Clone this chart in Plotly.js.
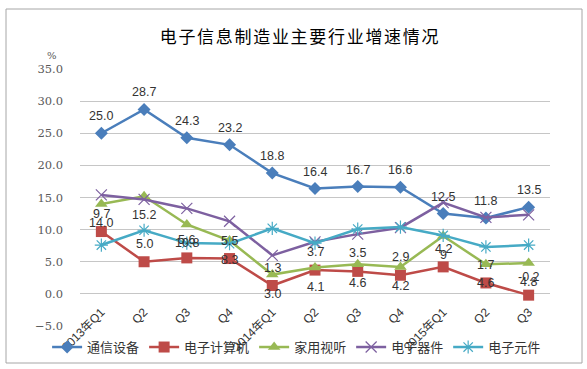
<!DOCTYPE html>
<html>
<head>
<meta charset="utf-8">
<script src="https://cdn.plot.ly/plotly-3.0.1.min.js"></script>
<style>
html,body{margin:0;padding:0;background:#fff;}
#chart{width:587px;height:369px;}
.gtitle{letter-spacing:1.7px;}
</style>
</head>
<body>
<div id="chart"></div>
<script>
var quarters = ["2013年Q1","Q2","Q3","Q4","2014年Q1","Q2","Q3","Q4","2015年Q1","Q2","Q3"];
var seriesNames = ["通信设备","电子计算机","家用视听","电子器件","电子元件"];
var telecom   = [25.0, 28.7, 24.3, 23.2, 18.8, 16.4, 16.7, 16.6, 12.5, 11.8, 13.5];
var computer  = [9.7, 5.0, 5.6, 5.5, 1.3, 3.7, 3.5, 2.9, 4.2, 1.7, -0.2];
var audiovis  = [14.0, 15.2, 10.8, 8.3, 3.0, 4.1, 4.6, 4.2, 9.0, 4.6, 4.8];
var devices   = [15.4, 14.7, 13.3, 11.3, 6.0, 8.1, 9.3, 10.3, 14.2, 11.9, 12.3];
var components= [7.6, 9.9, 7.9, 7.8, 10.2, 7.9, 10.1, 10.4, 9.1, 7.3, 7.6];
var telecomLabels  = ["25.0","28.7","24.3","23.2","18.8","16.4","16.7","16.6","12.5","11.8","13.5"];
var computerLabels = ["9.7","5.0","5.6","5.5","1.3","3.7","3.5","2.9","4.2","1.7","-0.2"];
var audiovisLabels = ["14.0","15.2","10.8","8.3","3.0","4.1","4.6","4.2","9","4.6","4.8"];
var yTicks = [-5, 0, 5, 10, 15, 20, 25, 30, 35];

var xIdx = quarters.map(function(_, i){ return i; });

function mk(name, y, color, symbol, msize, extra){
  var m = {color: color, symbol: symbol, size: msize};
  if (extra) { for (var k in extra) m[k] = extra[k]; }
  return {
    type: 'scatter', mode: 'lines+markers', name: name,
    x: xIdx, y: y,
    line: {color: color, width: 2.5},
    marker: m,
    cliponaxis: false
  };
}

var traces = [
  mk(seriesNames[0], telecom, '#4A7EBB', 'diamond', 10),
  mk(seriesNames[1], computer, '#BE4B48', 'square', 11),
  mk(seriesNames[2], audiovis, '#98B954', 'triangle-up', 11),
  mk(seriesNames[3], devices, '#7D60A0', 'x-thin-open', 11, {line: {color: '#7D60A0', width: 1.2}}),
  mk(seriesNames[4], components, '#46AAC5', 'asterisk-open', 11, {line: {color: '#46AAC5', width: 1.2}})
];

var annotations = [];
function addLabels(vals, labels, shift){
  vals.forEach(function(v, i){
    annotations.push({
      x: i, y: v, xref: 'x', yref: 'y', text: labels[i], showarrow: false,
      yshift: shift, yanchor: 'middle', xanchor: 'center',
      font: {family: 'Liberation Sans, Arial, sans-serif', size: 12.5, color: '#333333'}
    });
  });
}
addLabels(telecom, telecomLabels, 17);
addLabels(computer, computerLabels, 18);
addLabels(audiovis, audiovisLabels, -19);

annotations.push({
  xref: 'paper', yref: 'paper', x: -0.06, y: 1.054, text: '%', showarrow: false,
  xanchor: 'center', yanchor: 'middle',
  font: {family: 'DejaVu Serif, serif', size: 10, color: '#595959'}
});

var yMin = yTicks[0], yMax = yTicks[yTicks.length - 1];

var layout = {
  width: 587, height: 369,
  paper_bgcolor: '#ffffff', plot_bgcolor: '#ffffff',
  margin: {l: 80, r: 37, t: 69, b: 43, autoexpand: false},
  title: {
    text: '电子信息制造业主要行业增速情况',
    x: 0.511, xanchor: 'center', xref: 'container',
    y: 1 - 37/369, yanchor: 'middle', yref: 'container',
    font: {family: 'Noto Sans CJK SC, sans-serif', size: 17, color: '#000000'}
  },
  showlegend: true,
  legend: {
    orientation: 'h', x: -0.07, xanchor: 'left', y: -0.082, yanchor: 'middle',
    font: {family: 'Noto Sans CJK SC, sans-serif', size: 13, color: '#333333'},
    bgcolor: 'rgba(0,0,0,0)', itemwidth: 30, traceorder: 'normal'
  },
  xaxis: {
    range: [-0.5, quarters.length - 0.5],
    tickvals: xIdx, ticktext: quarters, tickangle: -45,
    showgrid: false, zeroline: false, showline: false, ticks: '',
    ticklabelstandoff: 8,
    anchor: 'free', position: (0 - yMin) / (yMax - yMin),
    automargin: false, fixedrange: true,
    tickfont: {family: 'Liberation Sans, Noto Sans CJK SC, sans-serif', size: 12, color: '#333333'}
  },
  yaxis: {
    range: [yMin, yMax], tickvals: yTicks, tickformat: '.1f',
    showgrid: true, gridcolor: '#C6C6C6', gridwidth: 1,
    zeroline: false, showline: false, ticks: '', ticklabelstandoff: 16,
    automargin: false, fixedrange: true,
    tickfont: {family: 'DejaVu Serif, serif', size: 11.5, color: '#595959'}
  },
  annotations: annotations,
  shapes: [{
    type: 'rect', xref: 'paper', yref: 'paper',
    x0: (6 - 80) / 470, x1: (582 - 80) / 470,
    y0: (326 - 363) / 257, y1: (326 - 9) / 257,
    line: {color: '#A6A6A6', width: 1}, fillcolor: 'rgba(0,0,0,0)', layer: 'below'
  }]
};

Plotly.newPlot('chart', traces, layout, {displayModeBar: false, staticPlot: true});
</script>
</body>
</html>
